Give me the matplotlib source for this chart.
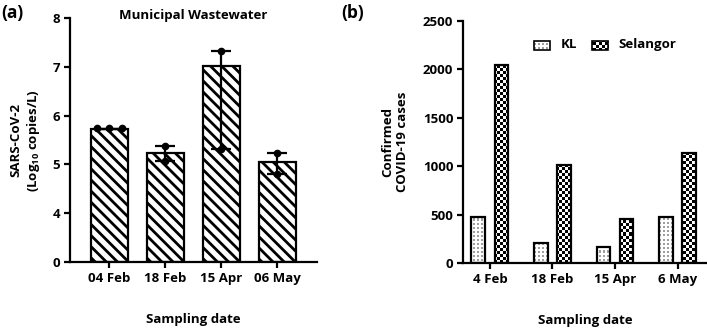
import matplotlib
matplotlib.use("Agg")
import matplotlib.pyplot as plt
from matplotlib.patches import Rectangle
import numpy as np

plt.rcParams['font.family'] = ['Open Sans', 'DejaVu Sans']
plt.rcParams['font.weight'] = 'bold'
plt.rcParams['mathtext.fontset'] = 'custom'
plt.rcParams['mathtext.rm'] = 'Open Sans:bold'
plt.rcParams['mathtext.bf'] = 'Open Sans:bold'
plt.rcParams['hatch.linewidth'] = 2.0

FS = 9.5

# (a) municipal wastewater, log10 copies/L
dates_a = ["04 Feb", "18 Feb", "15 Apr", "06 May"]
mean_a = [5.73, 5.23, 7.01, 5.05]
err_lo = [0.0, 0.16, 1.70, 0.24]
err_hi = [0.0, 0.14, 0.32, 0.19]
# individual replicate points (x offset, value)
pts_a = [
    [(-0.23, 5.75), (0.0, 5.75), (0.23, 5.75)],
    [(0.0, 5.37), (0.0, 5.07)],
    [(0.0, 7.33), (0.0, 5.31)],
    [(0.0, 5.24), (0.0, 4.81)],
]
floor_a = 3  # axis break: "0" is drawn one step below 4

# (b) confirmed cases
dates_b = ["4 Feb", "18 Feb", "15 Apr", "6 May"]
kl = [480, 205, 168, 476]
selangor = [2050, 1015, 455, 1135]

fig = plt.figure(figsize=(7.07, 3.29), dpi=100)

# ---------------- panel (a)
ax1 = fig.add_axes([0.099, 0.2036, 0.349, 0.7416])
x = np.arange(len(dates_a))
heights = [m - floor_a for m in mean_a]
ax1.bar(x, heights, bottom=floor_a, width=0.66, facecolor='white',
        edgecolor='black', linewidth=1.6, hatch='\\\\\\', zorder=2)
ax1.errorbar(x, mean_a, yerr=[err_lo, err_hi], fmt='none', ecolor='black',
             elinewidth=1.6, capsize=7, capthick=1.6, zorder=3)
for i, grp in enumerate(pts_a):
    xs = [i + dx for dx, v in grp]
    ys = [v for dx, v in grp]
    ax1.plot(xs, ys, 'o', color='black', markersize=4.5, zorder=4, clip_on=False)

ax1.set_xlim(-0.705, 3.705)
ax1.set_ylim(3, 8)
ax1.set_yticks([3, 4, 5, 6, 7, 8])
ax1.set_yticklabels(['0', '4', '5', '6', '7', '8'])
ax1.set_xticks(x)
ax1.set_xticklabels(dates_a)
for s in ['top', 'right']:
    ax1.spines[s].set_visible(False)
for s in ['left', 'bottom']:
    ax1.spines[s].set_linewidth(1.6)
ax1.tick_params(axis='both', width=1.6, length=4, labelsize=FS, pad=3)
ax1.text(0.5, 1.012, 'Municipal Wastewater', transform=ax1.transAxes,
         fontsize=FS, fontweight='bold', ha='center', va='center')
ax1.set_xlabel('Sampling date', fontsize=FS, fontweight='bold', labelpad=20)
ax1.set_ylabel('SARS-CoV-2\n(Log$_{10}$ copies/L)', fontsize=FS,
               fontweight='bold', labelpad=8)
fig.text(0.002, 0.962, '(a)', fontsize=12.5, fontweight='bold', va='center')

# ---------------- panel (b)
ax2 = fig.add_axes([0.6549, 0.2006, 0.345, 0.7356])
xb = np.arange(len(dates_b))
bw = 0.22
off = 0.185
xlim_b = (-0.43, 3.47)
ylim_b = (0, 2500)
ext = (xlim_b[0], xlim_b[1], ylim_b[0], ylim_b[1])

# fill patterns as images (about 3 px per cell), clipped to each bar
n = 81
checker = np.indices((n, n)).sum(axis=0) % 2
dots = np.ones((n * 3 // 2, n * 3 // 2))
dots[1::2, 1::2] = 0.62

kl_bars = ax2.bar(xb - off, kl, width=bw, facecolor='none', edgecolor='black',
                  linewidth=1.6, zorder=3)
for p in kl_bars:
    im = ax2.imshow(dots, cmap='gray', vmin=0, vmax=1, interpolation='nearest',
                    aspect='auto', extent=ext, zorder=2)
    im.set_clip_path(p)

sel_bars = ax2.bar(xb + off, selangor, width=bw, facecolor='none',
                   edgecolor='black', linewidth=1.6, zorder=3)
for p in sel_bars:
    im = ax2.imshow(checker, cmap='gray', interpolation='nearest', aspect='auto',
                    extent=ext, zorder=2)
    im.set_clip_path(p)

ax2.set_xlim(*xlim_b)
ax2.set_ylim(*ylim_b)
ax2.set_yticks([0, 500, 1000, 1500, 2000, 2500])
ax2.set_xticks(xb)
ax2.set_xticklabels(dates_b)
for s in ['top', 'right']:
    ax2.spines[s].set_visible(False)
for s in ['left', 'bottom']:
    ax2.spines[s].set_linewidth(1.6)
ax2.tick_params(axis='both', width=1.6, length=4, labelsize=FS, pad=3)
ax2.set_xlabel('Sampling date', fontsize=FS, fontweight='bold', labelpad=20)
ax2.set_ylabel('Confirmed\nCOVID-19 cases', fontsize=FS, fontweight='bold',
               labelpad=10)
fig.text(0.483, 0.962, '(b)', fontsize=12.5, fontweight='bold', va='center')

# manual legend
lg_kl = Rectangle((0.291, 0.882), 0.066, 0.037, transform=ax2.transAxes,
                  facecolor='none', edgecolor='black', linewidth=1.2, zorder=5)
ax2.add_patch(lg_kl)
im = ax2.imshow(dots, cmap='gray', vmin=0, vmax=1, interpolation='nearest',
                aspect='auto', extent=ext, zorder=4)
im.set_clip_path(lg_kl)
ax2.text(0.402, 0.901, 'KL', transform=ax2.transAxes, fontsize=FS,
         fontweight='bold', va='center')
lg_sel = Rectangle((0.529, 0.882), 0.066, 0.037, transform=ax2.transAxes,
                   facecolor='none', edgecolor='black', linewidth=1.2, zorder=5)
ax2.add_patch(lg_sel)
im = ax2.imshow(checker, cmap='gray', interpolation='nearest', aspect='auto',
                extent=ext, zorder=4)
im.set_clip_path(lg_sel)
ax2.text(0.635, 0.901, 'Selangor', transform=ax2.transAxes, fontsize=FS,
         fontweight='bold', va='center')
ax2.set_xlim(*xlim_b)
ax2.set_ylim(*ylim_b)

fig.savefig('out.png', dpi=100)
